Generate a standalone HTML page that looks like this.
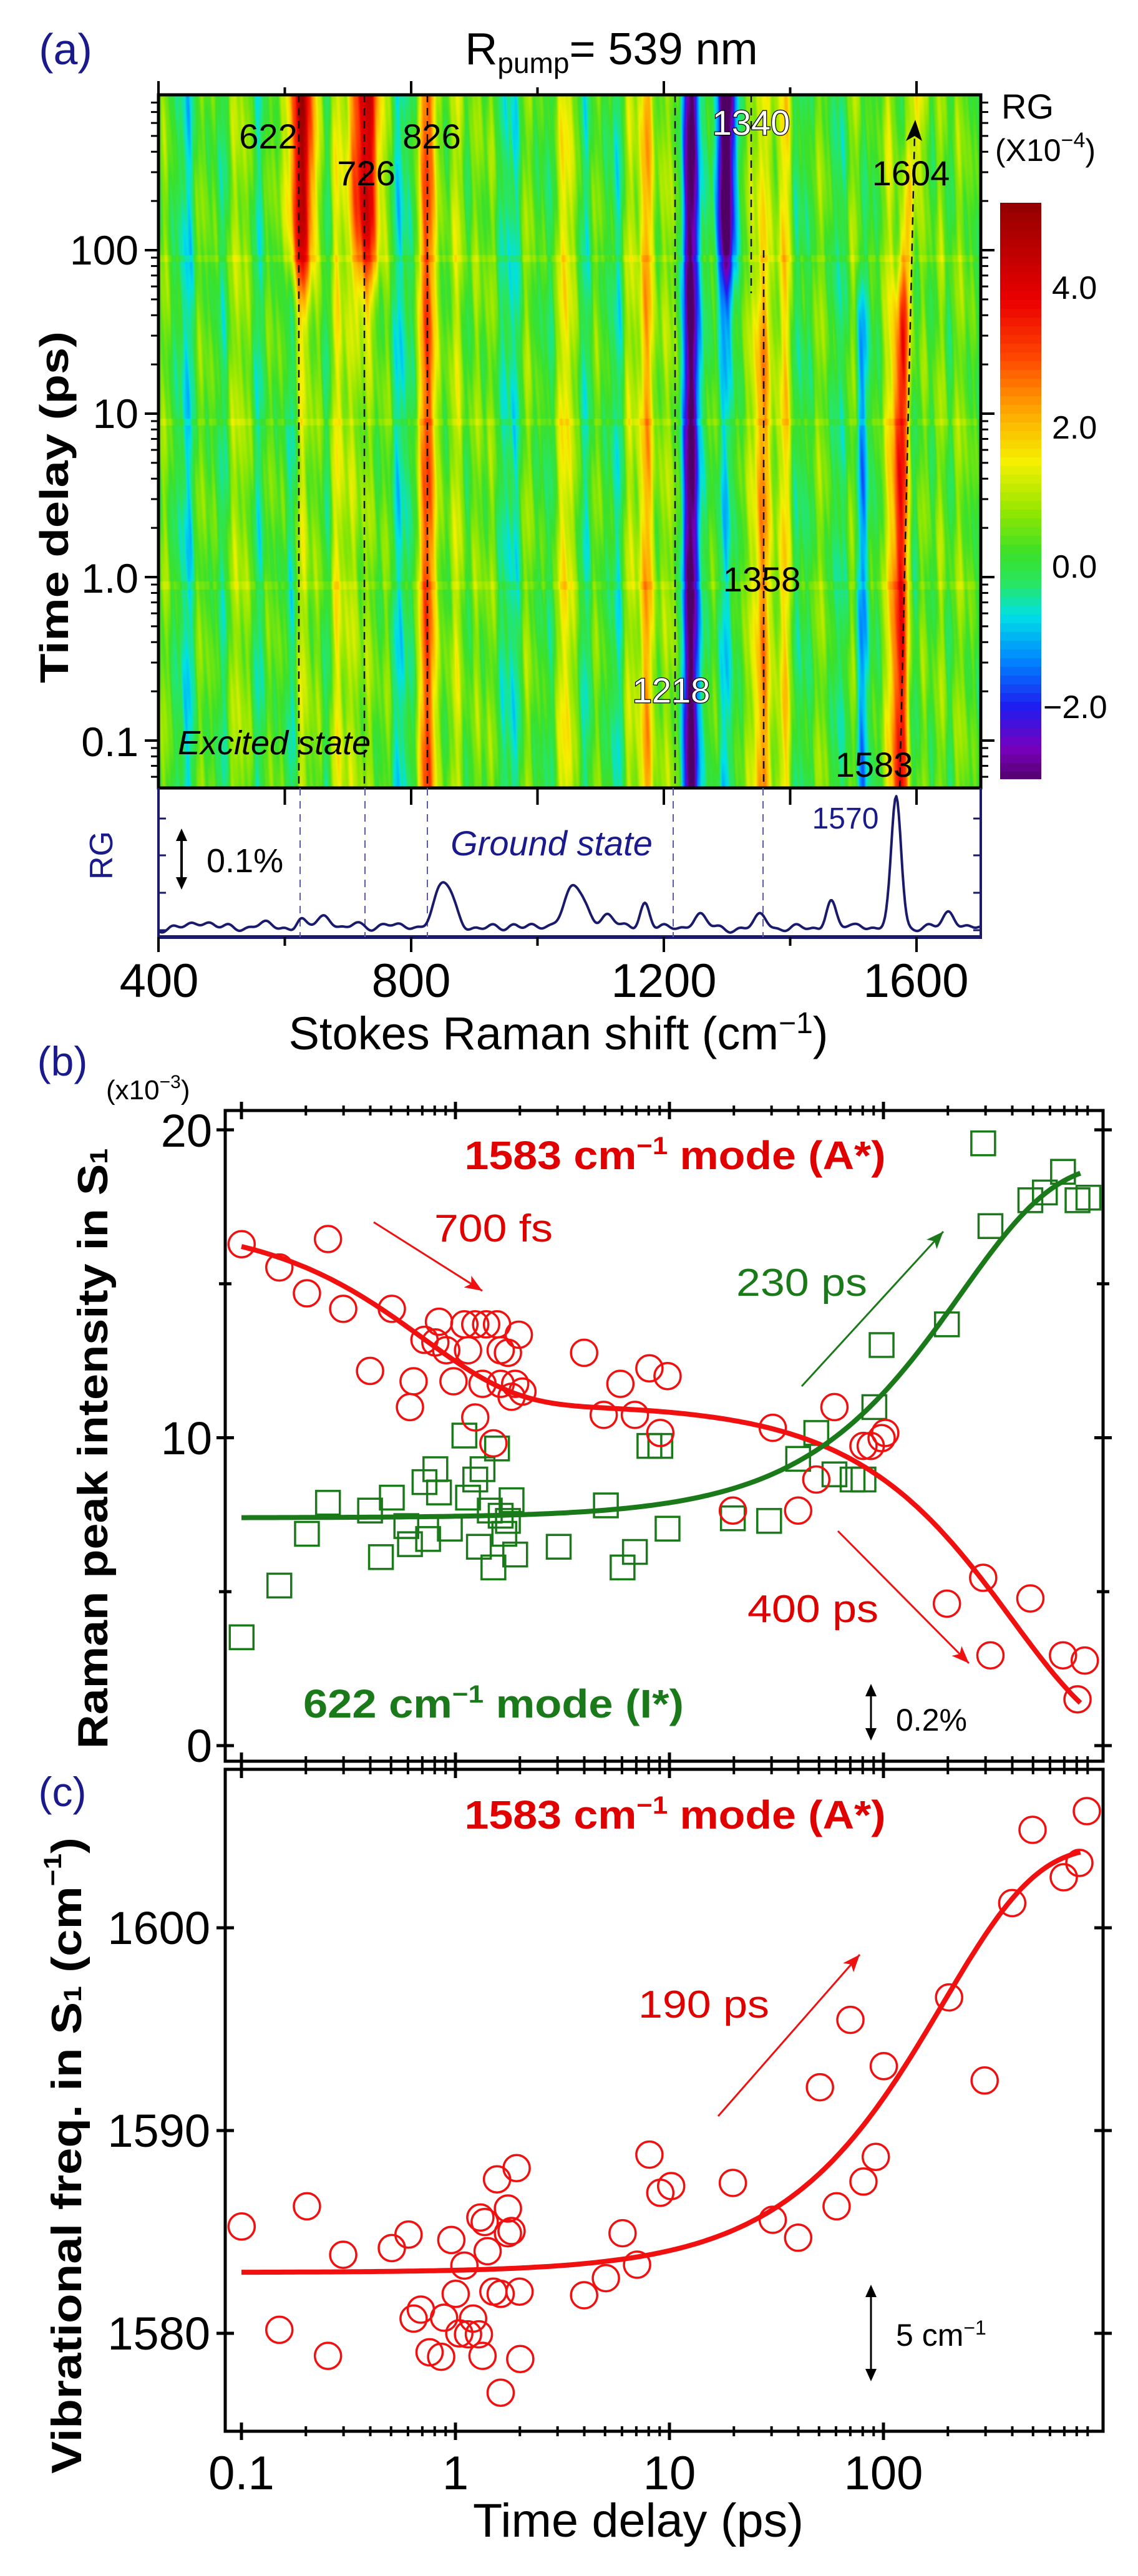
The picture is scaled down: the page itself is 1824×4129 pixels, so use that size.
<!DOCTYPE html>
<html><head><meta charset="utf-8">
<style>
html,body{margin:0;padding:0;background:#fff;}
#wrap{position:relative;width:1824px;height:4129px;overflow:hidden;}
canvas{position:absolute;}
svg{position:absolute;left:0;top:0;}
text{font-family:"Liberation Sans",Arial,sans-serif;}
</style></head><body>
<div id="wrap">
<canvas id="hm" width="1318" height="1111" style="left:254px;top:152px"></canvas>
<canvas id="cb" width="66" height="924" style="left:1603px;top:325px"></canvas>
<svg id="s" width="1824" height="4129" xmlns="http://www.w3.org/2000/svg">
<g id="dyn"></g>
<text x="105" y="103" font-size="70" fill="#1a1a8c" text-anchor="middle">(a)</text>
<text x="980" y="103" font-size="72" text-anchor="middle">R<tspan font-size="46" dy="14">pump</tspan><tspan dy="-14">= 539 nm</tspan></text>
<text transform="translate(87,813) rotate(-90)" font-size="64" font-weight="bold" text-anchor="middle" dominant-baseline="central" textLength="564" lengthAdjust="spacingAndGlyphs">Time delay (ps)</text>
<g font-size="66" text-anchor="end">
<text x="222" y="424">100</text><text x="222" y="686">10</text><text x="222" y="950">1.0</text><text x="222" y="1212">0.1</text>
</g>
<g font-size="56" text-anchor="middle">
<text x="430" y="238">622</text><text x="587" y="297">726</text><text x="692" y="238">826</text>
<text x="1460" y="297">1604</text><text x="1221" y="948">1358</text><text x="1401" y="1245">1583</text>
<text x="1204" y="216" fill="#fff" stroke="#000" stroke-width="2.5" paint-order="stroke">1340</text>
<text x="1076" y="1126" fill="#fff" stroke="#000" stroke-width="2.5" paint-order="stroke">1218</text>
</g>
<text x="285" y="1209" font-size="54" font-style="italic">Excited state</text>
<text x="1605" y="190" font-size="56">RG</text>
<text x="1595" y="258" font-size="50">(X10<tspan font-size="34" dy="-22">−4</tspan><tspan dy="22">)</tspan></text>
<g font-size="52">
<text x="1686" y="479">4.0</text><text x="1686" y="703">2.0</text><text x="1686" y="926">0.0</text><text x="1672" y="1151">−2.0</text>
</g>
<text transform="translate(163,1371) rotate(-90)" font-size="52" fill="#1a1a8c" text-anchor="middle" dominant-baseline="central">RG</text>
<text x="331" y="1398" font-size="54">0.1%</text>
<text x="884" y="1371" font-size="56" font-style="italic" fill="#1a1a8c" text-anchor="middle">Ground state</text>
<text x="1355" y="1328" font-size="48" fill="#1a1a8c" text-anchor="middle">1570</text>
<g font-size="76" text-anchor="middle">
<text x="255" y="1598">400</text><text x="659" y="1598">800</text><text x="1064" y="1598">1200</text><text x="1468" y="1598">1600</text>
</g>
<text x="895" y="1682" font-size="74" text-anchor="middle">Stokes Raman shift (cm<tspan font-size="48" dy="-26">−1</tspan><tspan dy="26">)</tspan></text>
<text x="100" y="1724" font-size="66" fill="#1a1a8c" text-anchor="middle">(b)</text>
<text x="170" y="1762" font-size="44">(x10<tspan font-size="30" dy="-18">−3</tspan><tspan dy="18">)</tspan></text>
<g font-size="74" text-anchor="end">
<text x="340" y="1838">20</text><text x="340" y="2331">10</text><text x="340" y="2824">0</text>
</g>
<text transform="translate(149,2322) rotate(-90)" font-size="68" font-weight="bold" text-anchor="middle" dominant-baseline="central" textLength="962" lengthAdjust="spacingAndGlyphs">Raman peak intensity in S<tspan font-size="40" dy="10">1</tspan></text>
<text x="1082" y="1874" font-size="64" font-weight="bold" fill="#e00000" text-anchor="middle" textLength="675" lengthAdjust="spacingAndGlyphs">1583 cm<tspan font-size="40" dy="-24">−1</tspan><tspan dy="24"> mode (A*)</tspan></text>
<text x="791" y="1990" font-size="62" fill="#e00000" text-anchor="middle" textLength="190" lengthAdjust="spacingAndGlyphs">700 fs</text>
<text x="1285" y="2077" font-size="62" fill="#1a7a1a" text-anchor="middle" textLength="210" lengthAdjust="spacingAndGlyphs">230 ps</text>
<text x="1303" y="2600" font-size="62" fill="#e00000" text-anchor="middle" textLength="210" lengthAdjust="spacingAndGlyphs">400 ps</text>
<text x="791" y="2753" font-size="64" font-weight="bold" fill="#1a7a1a" text-anchor="middle" textLength="610" lengthAdjust="spacingAndGlyphs">622 cm<tspan font-size="40" dy="-24">−1</tspan><tspan dy="24"> mode (I*)</tspan></text>
<text x="1436" y="2774" font-size="50">0.2%</text>
<text x="100" y="2895" font-size="66" fill="#1a1a8c" text-anchor="middle">(c)</text>
<text x="1082" y="2931" font-size="64" font-weight="bold" fill="#e00000" text-anchor="middle" textLength="675" lengthAdjust="spacingAndGlyphs">1583 cm<tspan font-size="40" dy="-24">−1</tspan><tspan dy="24"> mode (A*)</tspan></text>
<text x="1128" y="3234" font-size="62" fill="#e00000" text-anchor="middle" textLength="210" lengthAdjust="spacingAndGlyphs">190 ps</text>
<text x="1436" y="3760" font-size="50">5 cm<tspan font-size="32" dy="-18">−1</tspan></text>
<text transform="translate(107,3455) rotate(-90)" font-size="68" font-weight="bold" text-anchor="middle" dominant-baseline="central" textLength="1020" lengthAdjust="spacingAndGlyphs">Vibrational freq. in S<tspan font-size="40" dy="10">1</tspan><tspan dy="-10"> (cm</tspan><tspan font-size="40" dy="-22">−1</tspan><tspan dy="22">)</tspan></text>
<g font-size="74" text-anchor="end">
<text x="337" y="3116">1600</text><text x="337" y="3441">1590</text><text x="337" y="3766">1580</text>
</g>
<g font-size="76" text-anchor="middle">
<text x="387" y="3990">0.1</text><text x="730" y="3990">1</text><text x="1073" y="3990">10</text><text x="1416" y="3990">100</text>
</g>
<text x="1023" y="4066" font-size="76" text-anchor="middle" textLength="530" lengthAdjust="spacingAndGlyphs">Time delay (ps)</text>
</svg>
</div>
<script>
(function(){
var NS="http://www.w3.org/2000/svg",g=document.getElementById('dyn');
function el(n,a){var e=document.createElementNS(NS,n);for(var k in a)e.setAttribute(k,a[k]);g.appendChild(e);return e;}
function line(x1,y1,x2,y2,c,w,extra){var a={x1:x1,y1:y1,x2:x2,y2:y2,stroke:c,'stroke-width':w};if(extra)for(var k in extra)a[k]=extra[k];return el('line',a);}
var st=[[-3.1,80,0,100],[-2.6,120,0,190],[-2,30,30,240],[-1.3,0,140,255],[-0.7,0,225,230],[-0.25,40,230,100],[0.2,60,225,40],[0.8,150,232,0],[1.5,245,240,0],[2.2,255,170,0],[3,255,70,0],[3.8,235,0,0],[5.3,140,0,0]];
function cm(v){if(v<=st[0][0])return st[0].slice(1);for(var i=1;i<st.length;i++){if(v<=st[i][0]){var a=st[i-1],b=st[i],f=(v-a[0])/(b[0]-a[0]);return [a[1]+(b[1]-a[1])*f,a[2]+(b[2]-a[2])*f,a[3]+(b[3]-a[3])*f];}}return st[st.length-1].slice(1);}
var c=document.getElementById('hm'),ctx=c.getContext('2d'),W=1318,H=1111,img=ctx.createImageData(W,H),d=img.data;
function G(x,c0,w){var z=(x-c0)/w;return Math.exp(-z*z);}
for(var y=0;y<H;y++){
 var lt=Math.log10(890)-y/262,t=Math.pow(10,lt),top=1/(1+Math.exp(-(lt-1.8)*6));
 var c83=1583+21*(1-Math.exp(-t/190))-8;
 var hrow=(Math.abs(lt-2+0.05)<0.02||Math.abs(lt-1+0.05)<0.02||Math.abs(lt+0.05)<0.025)?0.25:0;
 for(var x=0;x<W;x++){
  var w=400+x/1.0125;
  var v=0.5*Math.sin(w*0.11)+0.3*Math.sin(w*0.037+1)+0.25*Math.sin(w*0.23+2)+0.2*Math.sin(w*0.05+lt*7)+0.15*Math.sin(w*0.4+lt*3)+0.1*Math.sin(w*0.7+lt*11)+hrow+0.2;
  v+= (1.2+3.6*top)*G(w,624,12+8*top);
  v+= (1.0+3.6*top)*G(w,728,12+8*top);
  v+= 2.8*G(w,828,13);
  v+= 1.8*G(w,1175,14);
  v+= -2.8*G(w,1242,16);
  v+= -3.2*top*G(w,1298,16);
  v+= (2.6-1.0*top)*G(w,1355,12);
  v+= -1.4*(1-top)*G(w,1512,10);
  v+= (3.6-1.8*top)*G(w,c83,13);
  v+= 1.0*G(w,680,10)+0.9*G(w,905,10)+0.7*G(w,1050,12)+0.9*G(w,1140,10)+1.2*G(w,1640,12)+0.8*G(w,1460,10)+0.8*G(w,1395,10);
  var col=cm(v),i=(y*W+x)*4;d[i]=col[0];d[i+1]=col[1];d[i+2]=col[2];d[i+3]=255;
 }}
ctx.putImageData(img,0,0);
var cb=document.getElementById('cb'),cx=cb.getContext('2d');
for(var y=0;y<924;y++){var v=5.2-y/112;var q=cm(Math.round(v*8)/8);cx.fillStyle='rgb('+(q[0]|0)+','+(q[1]|0)+','+(q[2]|0)+')';cx.fillRect(0,y,66,1);}
function X(cmv){return 254+(cmv-400)*1.0125;}
function TX(t){return 387+343*Math.log10(t/0.1);}
function LY(t){return 401-262*Math.log10(t/100);}
var dl=[[479,152,479,1263],[584,152,584,1263],[685,152,685,1263],[1082,152,1082,1263],[1224,401,1224,1263],[1204,152,1204,470],[1442,1263,1466,215]];
dl.forEach(function(a){line(a[0],a[1],a[2],a[3],'#111',2.5,{'stroke-dasharray':'12,9'});});
el('path',{d:'M1467,192 L1452,226 L1466,218 L1478,226 Z',fill:'#000'});
el('rect',{x:254,y:152,width:1318,height:1111,fill:'none',stroke:'#000','stroke-width':5});
[400,600,800,1000,1200,1400,1600].forEach(function(m){line(X(m),152,X(m),(m%400==0)?130:140,'#000',4);line(X(m),1263,X(m),1290,'#000',4);});
for(var e=-2;e<3;e++)for(var k=1;k<10;k++){var t=k*Math.pow(10,e),yy=LY(t);if(yy<152||yy>1263)continue;var L=(k==1)?22:12;line(254,yy,254-L,yy,'#000',(k==1)?4:3);line(1572,yy,1572+L,yy,'#000',(k==1)?4:3);}
line(254,1263,254,1502,'#1a1a6c',4);line(1572,1263,1572,1502,'#1a1a6c',4);line(252,1502,1574,1502,'#1a1a6c',6);
[1312,1371,1431,1491].forEach(function(yy){line(254,yy,266,yy,'#1a1a6c',3);line(1572,yy,1560,yy,'#1a1a6c',3);});
[400,600,800,1000,1200,1400,1600].forEach(function(m){line(X(m),1502,X(m),(m%400==0)?1526:1516,'#000',4);});
[481,585,685,1079,1223].forEach(function(x){line(x,1263,x,1502,'#5a5aa8',2,{'stroke-dasharray':'12,9'});});
var pk=[[470,12,20],[560,8,18],[624,16,10],[665,18,18],[760,10,14],[852,72,22],[1058,66,24],[1110,22,16],[1170,42,11],[1255,22,15],[1355,20,14],[1464,44,11],[1568,212,11],[1652,28,14],[1510,10,10],[965,8,14],[710,6,10]];
var pts=[];for(var w=400;w<=1700;w+=2){var yv=1488-4*Math.sin(w*0.09)-3*Math.sin(w*0.21+1);pk.forEach(function(p){yv-=p[1]*Math.exp(-Math.pow((w-p[0])/p[2],2));});pts.push(X(w).toFixed(1)+','+yv.toFixed(1));}
el('polyline',{points:pts.join(' '),fill:'none',stroke:'#1a1a6c','stroke-width':4,'stroke-linejoin':'round'});
function darrow(x,y1,y2,w){line(x,y1+12,x,y2-12,'#000',w);el('path',{d:'M'+x+','+y1+' l-9,20 h18 Z',fill:'#000'});el('path',{d:'M'+x+','+y2+' l-9,-20 h18 Z',fill:'#000'});}
darrow(291,1328,1426,4);
function arrow(x1,y1,x2,y2,c,w){line(x1,y1,x2,y2,c,w);var a=Math.atan2(y2-y1,x2-x1),L=30,s=0.38;el('path',{d:'M'+x2+','+y2+' L'+(x2-L*Math.cos(a-s))+','+(y2-L*Math.sin(a-s))+' L'+(x2-L*0.7*Math.cos(a))+','+(y2-L*0.7*Math.sin(a))+' L'+(x2-L*Math.cos(a+s))+','+(y2-L*Math.sin(a+s))+' Z',fill:c});}
function logTicks(yy){for(var e=-1;e<3;e++)for(var k=1;k<10;k++){var t=k*Math.pow(10,e);if(t>900)continue;var x=TX(t);var L=(k==1)?14:8;line(x,yy-L,x,yy+L,'#000',(k==1)?5:4);}}
el('rect',{x:361,y:1780,width:1407,height:1043,fill:'none',stroke:'#000','stroke-width':5});
logTicks(1780);logTicks(2823);
function BY(v){return 2798-49.35*v;}
[0,5,10,15,20].forEach(function(v){var L=(v%10==0)?14:10;line(361-L,BY(v),361+L,BY(v),'#000',5);line(1768-L,BY(v),1768+L,BY(v),'#000',5);});
el('rect',{x:361,y:2836,width:1407,height:1061,fill:'none',stroke:'#000','stroke-width':5});
logTicks(2836);logTicks(3897);
function CY(f){return 3740-32.5*(f-1580);}
[1580,1590,1600].forEach(function(f){line(347,CY(f),375,CY(f),'#000',5);line(1754,CY(f),1782,CY(f),'#000',5);});
var P=function(px,py){return [px*1.163,1700+py*0.829];};
var rc=[[333,355],[385,400],[423,450],[452,345],[473,480],[540,480],[510,600],[565,670],[570,620],[585,540],[605,505],[625,620],[640,510],[655,510],[670,510],[685,510],[600,545],[615,560],[645,560],[655,690],[680,740],[690,560],[700,565],[715,530],[720,640],[710,625],[705,650],[690,625],[665,625],[805,565],[855,625],[832,685],[875,685],[895,595],[920,610],[910,720],[1065,710],[1100,870],[1010,870],[1150,670],[1125,810],[1190,745],[1200,745],[1215,730],[1220,720],[1305,1050],[1355,1000],[1365,1150],[1420,1040],[1465,1150],[1495,1160],[1485,1235]];
var gs=[[333,1115],[385,1015],[423,915],[452,855],[510,870],[540,845],[525,960],[565,935],[560,900],[585,815],[600,790],[590,925],[620,905],[605,835],[640,725],[645,845],[655,810],[665,790],[660,940],[680,980],[685,750],[675,870],[690,880],[700,890],[705,850],[695,915],[710,955],[770,940],[835,860],[858,980],[875,950],[895,745],[910,745],[920,905],[1010,885],[1060,890],[1100,770],[1125,720],[1150,800],[1175,810],[1190,810],[1205,670],[1215,550],[1305,510],[1355,160],[1365,320],[1420,270],[1440,255],[1465,215],[1485,270],[1500,265]];
gs.forEach(function(p){var q=P(p[0],p[1]);el('rect',{x:q[0]-19,y:q[1]-19,width:38,height:38,fill:'none',stroke:'#1a7a1a','stroke-width':3.5});});
rc.forEach(function(p){var q=P(p[0],p[1]);el('circle',{cx:q[0],cy:q[1],r:21,fill:'none',stroke:'#f01010','stroke-width':3.5});});
var pr=[],pg=[],pc=[];
for(var lt=-1;lt<=Math.log10(850);lt+=0.02){var t=Math.pow(10,lt);
 pr.push(TX(t).toFixed(1)+','+BY((5.9*Math.exp(-t/0.7)+11.1)*Math.exp(-t/400)).toFixed(1));
 pg.push(TX(t).toFixed(1)+','+BY(7.4+11.5*(1-Math.exp(-t/230))).toFixed(1));
 pc.push(TX(t).toFixed(1)+','+CY(1583+21*(1-Math.exp(-t/190))).toFixed(1));}
el('polyline',{points:pr.join(' '),fill:'none',stroke:'#f01010','stroke-width':8});
el('polyline',{points:pg.join(' '),fill:'none',stroke:'#1a7a1a','stroke-width':8});
arrow(599,1959,773,2069,'#f01010',3);
arrow(1285,2222,1512,1974,'#1a7a1a',3);
arrow(1343,2454,1553,2666,'#f01010',3);
darrow(1396,2699,2790,3);
var Q=function(px,py){return [px*1.163,3000+py*0.72];};
var cc=[[333,790],[385,1020],[423,745],[452,1078],[473,853],[540,838],[563,808],[570,995],[580,975],[592,1070],[608,1080],[612,993],[622,820],[628,940],[640,877],[633,1028],[645,1030],[652,995],[660,1030],[662,770],[668,780],[672,845],[665,1078],[685,685],[680,935],[690,940],[700,750],[700,805],[705,800],[712,660],[716,935],[717,1085],[690,1160],[805,943],[835,905],[858,805],[878,875],[895,630],[910,715],[925,700],[1010,693],[1065,775],[1100,815],[1130,480],[1153,745],[1172,330],[1190,690],[1207,635],[1218,433],[1308,280],[1357,465],[1395,70]];
cc.forEach(function(p){var q=Q(p[0],p[1]);el('circle',{cx:q[0],cy:q[1],r:21,fill:'none',stroke:'#f01010','stroke-width':3.5});});
[[1655,2933],[1742,2903],[1705,3009],[1730,2986]].forEach(function(q){el('circle',{cx:q[0],cy:q[1],r:21,fill:'none',stroke:'#f01010','stroke-width':3.5});});
el('polyline',{points:pc.join(' '),fill:'none',stroke:'#f01010','stroke-width':8});
arrow(1151,3392,1378,3133,'#f01010',3);
darrow(1396,3662,3817,3);
})();
</script>
</body></html>
